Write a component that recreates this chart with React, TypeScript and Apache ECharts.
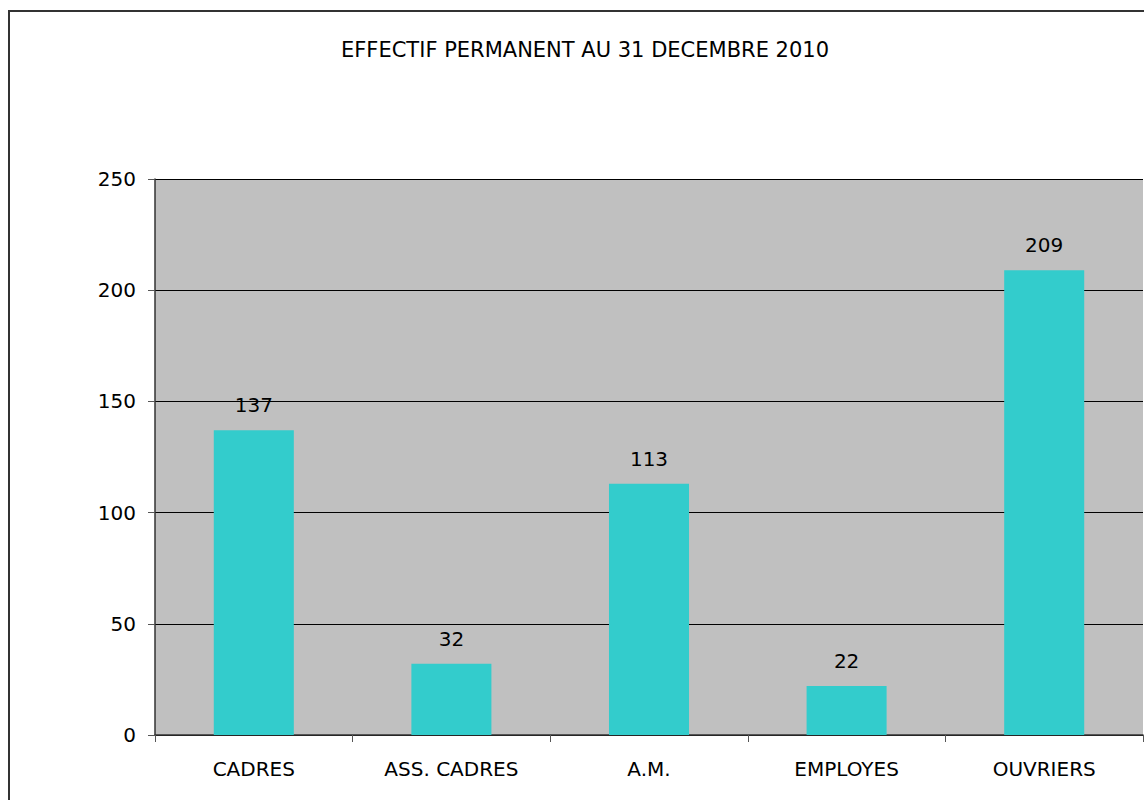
import React, { useEffect, useRef } from "react";
import * as echarts from "echarts";

const categories = ["CADRES", "ASS. CADRES", "A.M.", "EMPLOYES", "OUVRIERS"];
const values = [137, 32, 113, 22, 209];
const title = "EFFECTIF PERMANENT AU 31 DECEMBRE 2010";

export default function App() {
  const ref = useRef<HTMLDivElement>(null);
  useEffect(() => {
    const chart = echarts.init(ref.current!, null, { renderer: "svg" });
    const font = "Tahoma, 'DejaVu Sans', Verdana, sans-serif";
    chart.setOption({
      animation: false,
      backgroundColor: "#ffffff",
      title: {
        text: title,
        left: 580,
        top: 34,
        textAlign: "center",
        textStyle: { fontFamily: font, fontSize: 21, fontWeight: "normal", color: "#000" },
      },
      graphic: [
        {
          type: "rect",
          shape: { x: 9, y: 11, width: 1200, height: 900 },
          style: { fill: "none", stroke: "#333", lineWidth: 2 },
          z: 100,
        },
      ],
      grid: {
        left: 155,
        top: 179,
        right: 1,
        bottom: 65,
        show: true,
        backgroundColor: "#c0c0c0",
        borderColor: "#666",
        borderWidth: 0,
      },
      xAxis: {
        type: "category",
        data: categories,
        axisLine: { lineStyle: { color: "#333", width: 1.5 } },
        axisTick: { show: true, length: 7, lineStyle: { color: "#555" } },
        axisLabel: { fontFamily: font, fontSize: 20, color: "#000", margin: 24, interval: 0 },
      },
      yAxis: {
        type: "value",
        min: 0,
        max: 250,
        interval: 50,
        axisLine: { show: true, lineStyle: { color: "#333", width: 1.5 } },
        axisTick: { show: true, length: 7, lineStyle: { color: "#555" } },
        axisLabel: { fontFamily: font, fontSize: 20, color: "#000", margin: 19 },
        splitLine: { show: true, lineStyle: { color: "#000", width: 1 } },
      },
      series: [
        {
          type: "bar",
          data: values,
          barWidth: "40.5%",
          itemStyle: { color: "#33cccc" },
          label: {
            show: true,
            position: "top",
            distance: 15,
            fontFamily: font,
            fontSize: 20,
            color: "#000",
          },
        },
      ],
    });
    return () => chart.dispose();
  }, []);
  return (
    <div
      ref={ref}
      style={{ position: "absolute", left: 0, top: 0, width: 1144, height: 800 }}
    />
  );
}
